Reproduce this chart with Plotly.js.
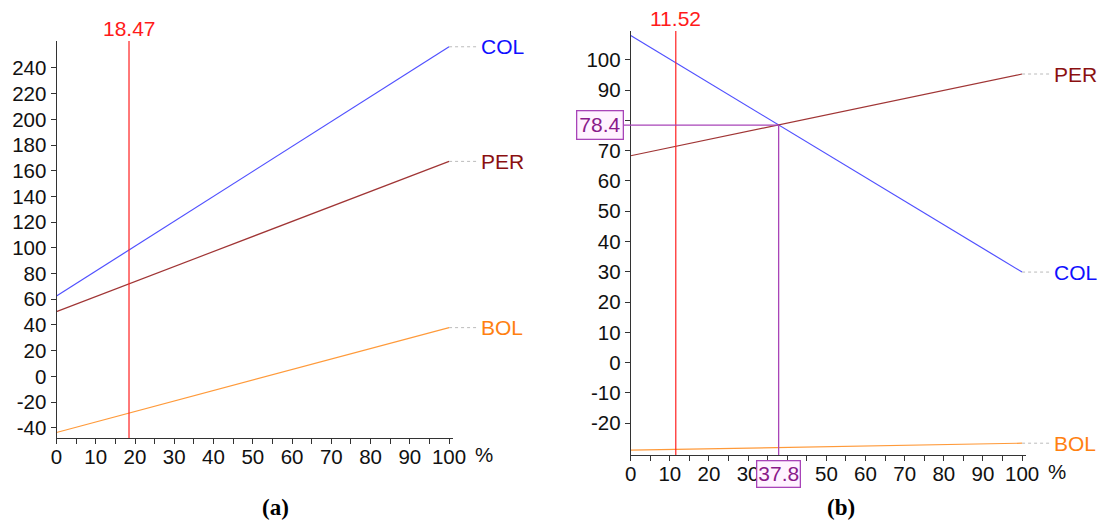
<!DOCTYPE html>
<html>
<head>
<meta charset="utf-8">
<script src="https://cdn.plot.ly/plotly-3.0.1.min.js"></script>
<style>html,body{margin:0;padding:0;background:#fff;}#chart{width:1099px;height:520px;}</style>
</head>
<body>
<div id="chart"></div>
<script>
// ---- data ----
const xPct = [0, 100];
const seriesNames = ['COL', 'PER', 'BOL'];
// panel (a)
const colA = [62.5, 256.5];
const perA = [50.4, 167.3];
const bolA = [-43.7, 37.9];
const markerA = [18.47];
// panel (b)
const colB = [108.0, 29.9];
const perB = [68.3, 95.3];
const bolB = [-28.9, -26.6];
const markerB = [11.52];
const crossB = [37.8, 78.4]; // x, y of COL/PER intersection
const xTicks = [0, 10, 20, 30, 40, 50, 60, 70, 80, 90, 100];
const yTicksA = [-40, -20, 0, 20, 40, 60, 80, 100, 120, 140, 160, 180, 200, 220, 240];
const yTicksB = [-20, -10, 0, 10, 20, 30, 40, 50, 60, 70, 80, 90, 100];
const panelLabels = ['(a)', '(b)'];

// ---- styles ----
const lineColors = {COL: '#5050ff', PER: '#a03535', BOL: '#ff9a3a'};
const textColors = {COL: '#1010ff', PER: '#8b1010', BOL: '#ff8010'};
const W = 1099, H = 520;
const tickFont = {family: 'Arial, "Liberation Sans", sans-serif', size: 20.5, color: '#111'};
const annFamily = 'Arial, "Liberation Sans", sans-serif';

const xRange = [0, 101];
const domA = {x: [56.5 / W, 453 / W], y: [1 - 438 / H, 1 - 41 / H], yr: [-48, 261]};
const domB = {x: [630.7 / W, 1026 / W], y: [1 - 455 / H, 1 - 31 / H], yr: [-30.5, 109.5]};

function paperX(dom, v) { return dom.x[0] + (v - xRange[0]) / (xRange[1] - xRange[0]) * (dom.x[1] - dom.x[0]); }
function paperY(dom, v) { return dom.y[0] + (v - dom.yr[0]) / (dom.yr[1] - dom.yr[0]) * (dom.y[1] - dom.y[0]); }

const dataA = {COL: colA, PER: perA, BOL: bolA};
const dataB = {COL: colB, PER: perB, BOL: bolB};

const traces = [];
seriesNames.forEach(n => {
  traces.push({x: xPct, y: dataA[n], type: 'scatter', mode: 'lines', name: n,
    line: {color: lineColors[n], width: 1.2}, xaxis: 'x', yaxis: 'y', hoverinfo: 'skip'});
  traces.push({x: xPct, y: dataB[n], type: 'scatter', mode: 'lines', name: n,
    line: {color: lineColors[n], width: 1.2}, xaxis: 'x2', yaxis: 'y2', hoverinfo: 'skip'});
});

const shapes = [];
const annotations = [];

function addPanel(dom, data, xa, ya, marker) {
  // red marker line
  shapes.push({type: 'line', xref: xa, yref: ya + ' domain', x0: marker[0], x1: marker[0], y0: 0, y1: 1,
    line: {color: '#ff2020', width: 1.2}});
  annotations.push({xref: xa, yref: 'paper', x: marker[0], y: dom.y[1], yanchor: 'bottom', yshift: -1,
    text: String(marker[0]), showarrow: false, font: {family: annFamily, size: 21, color: '#ff1a1a'}});
  // end labels with dashed leaders
  seriesNames.forEach(n => {
    const yEnd = data[n][data[n].length - 1];
    const xp = paperX(dom, xPct[xPct.length - 1]);
    shapes.push({type: 'line', xref: 'paper', yref: ya, x0: xp, x1: xp + 29 / W, y0: yEnd, y1: yEnd,
      line: {color: '#bbbbbb', width: 1, dash: '3px,3px'}});
    annotations.push({xref: 'paper', yref: ya, x: xp + 30 / W, y: yEnd, xanchor: 'left', yanchor: 'middle',
      text: n, showarrow: false, font: {family: annFamily, size: 21, color: textColors[n]}});
  });
  // % unit
  annotations.push({xref: 'paper', yref: 'paper', x: paperX(dom, 100) + 24 / W, y: dom.y[0], yanchor: 'top',
    xanchor: 'left', yshift: -3, text: '%', showarrow: false, font: tickFont});
}
addPanel(domA, dataA, 'x', 'y', markerA);
addPanel(domB, dataB, 'x2', 'y2', markerB);

// purple crosshair in panel (b)
const purple = '#a844b8';
shapes.push({type: 'line', xref: 'paper', yref: 'y2', x0: domB.x[0] - 8 / W, x1: paperX(domB, crossB[0]),
  y0: crossB[1], y1: crossB[1], line: {color: purple, width: 1.3}});
shapes.push({type: 'line', xref: 'x2', yref: 'paper', x0: crossB[0], x1: crossB[0],
  y0: domB.y[0], y1: paperY(domB, crossB[1]), line: {color: purple, width: 1.3}});
annotations.push({xref: 'paper', yref: 'y2', x: domB.x[0] - 7 / W, y: crossB[1], xanchor: 'right', yanchor: 'middle',
  text: String(crossB[1]), showarrow: false, bgcolor: '#fff2ff', bordercolor: purple, borderwidth: 1.3, borderpad: 2,
  font: {family: annFamily, size: 21, color: '#8a1a8a'}});
annotations.push({xref: 'x2', yref: 'paper', x: crossB[0], y: domB.y[0], xanchor: 'center', yanchor: 'top', yshift: -5,
  text: String(crossB[0]), showarrow: false, bgcolor: '#fff2ff', bordercolor: purple, borderwidth: 1.3, borderpad: 1,
  font: {family: annFamily, size: 21, color: '#8a1a8a'}});

// panel captions
const capFont = {family: '"Liberation Serif", "Times New Roman", serif', size: 23, color: '#000'};
annotations.push({xref: 'paper', yref: 'paper', x: 275 / W, y: 1 - 507 / H, xanchor: 'center', yanchor: 'middle',
  text: '<b>' + panelLabels[0] + '</b>', showarrow: false, font: capFont});
annotations.push({xref: 'paper', yref: 'paper', x: 841 / W, y: 1 - 507 / H, xanchor: 'center', yanchor: 'middle',
  text: '<b>' + panelLabels[1] + '</b>', showarrow: false, font: capFont});

// labels hidden under the crosshair value boxes in (b)
function hideUnder(ticks, v) { return ticks.map(t => (t === v ? '' : String(t))); }

function xAxis(dom, anchor, text) {
  return {domain: dom.x, range: xRange, anchor: anchor, showgrid: false, zeroline: false,
    showline: true, linecolor: '#333', linewidth: 1, ticks: 'outside', ticklen: 5, tickcolor: '#333', tickwidth: 1,
    tickvals: xTicks, ticktext: text, tickfont: tickFont, ticklabelstandoff: -5,
    minor: {dtick: 5, tick0: 0, ticks: 'outside', ticklen: 5, tickcolor: '#333', showgrid: false},
    fixedrange: true};
}
function yAxis(dom, anchor, ticks, text) {
  return {domain: dom.y, range: dom.yr, anchor: anchor, showgrid: false, zeroline: false,
    showline: true, linecolor: '#333', linewidth: 1, ticks: 'outside', ticklen: 5, tickcolor: '#333', tickwidth: 1,
    tickvals: ticks, ticktext: text, tickfont: tickFont, fixedrange: true};
}

const layout = {
  width: W, height: H,
  margin: {l: 0, r: 0, t: 0, b: 0},
  paper_bgcolor: '#fff', plot_bgcolor: '#fff',
  showlegend: false,
  xaxis: xAxis(domA, 'y', xTicks.map(String)),
  yaxis: yAxis(domA, 'x', yTicksA, yTicksA.map(String)),
  xaxis2: xAxis(domB, 'y2', hideUnder(xTicks, 40)),
  yaxis2: yAxis(domB, 'x2', yTicksB, hideUnder(yTicksB, 80)),
  shapes: shapes,
  annotations: annotations
};

Plotly.newPlot('chart', traces, layout, {displayModeBar: false, staticPlot: true});
</script>
</body>
</html>
